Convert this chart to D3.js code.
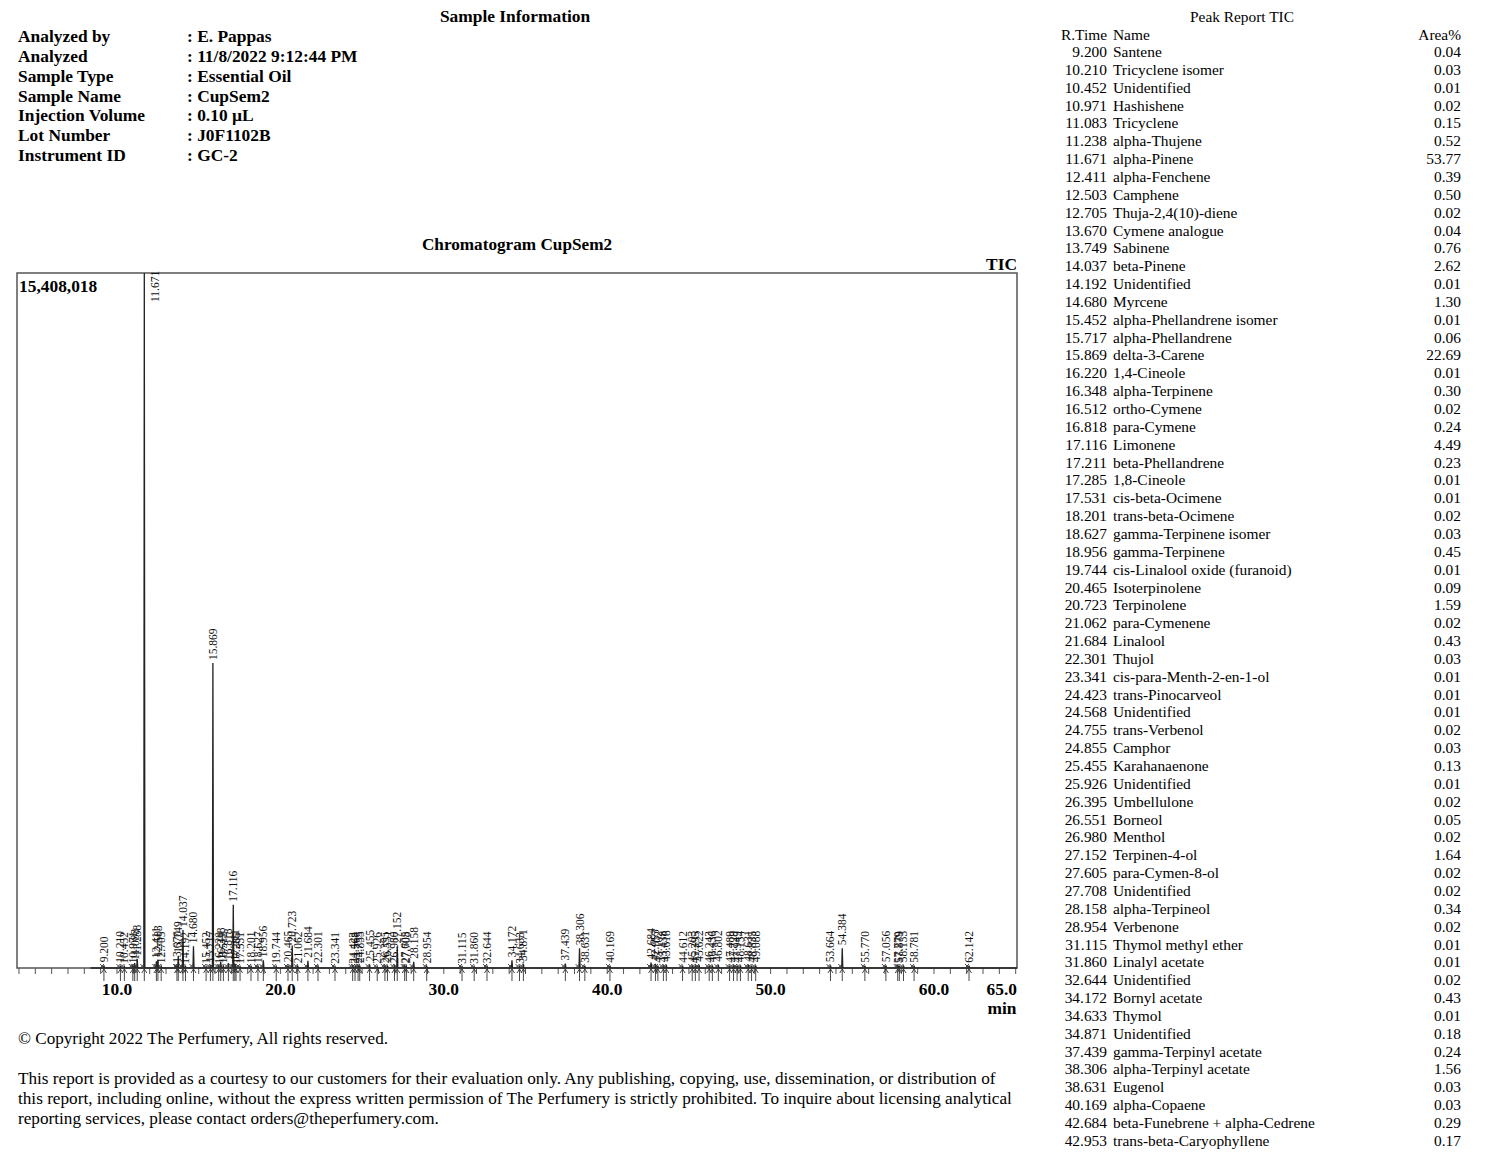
<!DOCTYPE html>
<html><head><meta charset="utf-8">
<script src="https://cdn.jsdelivr.net/npm/d3@7"></script>
<style>body{margin:0;background:#fff}svg{display:block}</style>
</head><body>
<script>
// ---------- data ----------
const infoLabels = ["Analyzed by","Analyzed","Sample Type","Sample Name","Injection Volume","Lot Number","Instrument ID"];
const infoValues = [": E. Pappas",": 11/8/2022 9:12:44 PM",": Essential Oil",": CupSem2",": 0.10 µL",": J0F1102B",": GC-2"];

const tableRT = ["9.200","10.210","10.452","10.971","11.083","11.238","11.671","12.411","12.503","12.705","13.670","13.749","14.037","14.192","14.680","15.452","15.717","15.869","16.220","16.348","16.512","16.818","17.116","17.211","17.285","17.531","18.201","18.627","18.956","19.744","20.465","20.723","21.062","21.684","22.301","23.341","24.423","24.568","24.755","24.855","25.455","25.926","26.395","26.551","26.980","27.152","27.605","27.708","28.158","28.954","31.115","31.860","32.644","34.172","34.633","34.871","37.439","38.306","38.631","40.169","42.684","42.953"];
const tableName = ["Santene","Tricyclene isomer","Unidentified","Hashishene","Tricyclene","alpha-Thujene","alpha-Pinene","alpha-Fenchene","Camphene","Thuja-2,4(10)-diene","Cymene analogue","Sabinene","beta-Pinene","Unidentified","Myrcene","alpha-Phellandrene isomer","alpha-Phellandrene","delta-3-Carene","1,4-Cineole","alpha-Terpinene","ortho-Cymene","para-Cymene","Limonene","beta-Phellandrene","1,8-Cineole","cis-beta-Ocimene","trans-beta-Ocimene","gamma-Terpinene isomer","gamma-Terpinene","cis-Linalool oxide (furanoid)","Isoterpinolene","Terpinolene","para-Cymenene","Linalool","Thujol","cis-para-Menth-2-en-1-ol","trans-Pinocarveol","Unidentified","trans-Verbenol","Camphor","Karahanaenone","Unidentified","Umbellulone","Borneol","Menthol","Terpinen-4-ol","para-Cymen-8-ol","Unidentified","alpha-Terpineol","Verbenone","Thymol methyl ether","Linalyl acetate","Unidentified","Bornyl acetate","Thymol","Unidentified","gamma-Terpinyl acetate","alpha-Terpinyl acetate","Eugenol","alpha-Copaene","beta-Funebrene + alpha-Cedrene","trans-beta-Caryophyllene"];
const tableArea = ["0.04","0.03","0.01","0.02","0.15","0.52","53.77","0.39","0.50","0.02","0.04","0.76","2.62","0.01","1.30","0.01","0.06","22.69","0.01","0.30","0.02","0.24","4.49","0.23","0.01","0.01","0.02","0.03","0.45","0.01","0.09","1.59","0.02","0.43","0.03","0.01","0.01","0.01","0.02","0.03","0.13","0.01","0.02","0.05","0.02","1.64","0.02","0.02","0.34","0.02","0.01","0.01","0.02","0.43","0.01","0.18","0.24","1.56","0.03","0.03","0.29","0.17"];

// chromatogram peaks (retention time, apex intensity in counts)
const peakRT = ["9.200","10.210","10.452","10.971","11.083","11.238","11.671","12.411","12.503","12.705","13.670","13.749","14.037","14.192","14.680","15.452","15.717","15.869","16.220","16.348","16.512","16.818","17.116","17.211","17.285","17.531","18.201","18.627","18.956","19.744","20.465","20.723","21.062","21.684","22.301","23.341","24.423","24.568","24.755","24.855","25.455","25.926","26.395","26.551","26.980","27.152","27.605","27.708","28.158","28.954","31.115","31.860","32.644","34.172","34.633","34.871","37.439","38.306","38.631","40.169","42.684","42.953","43.102","43.438","43.618","44.612","45.203","45.395","45.622","46.243","46.436","46.802","47.489","47.729","47.949","48.154","48.631","48.835","49.088","53.664","54.384","55.770","57.056","57.779","57.879","58.133","58.781","62.142"];
const peakHeight = [60000,50000,30000,40000,110000,200000,15408018,150000,180000,40000,50000,270000,840000,30000,480000,30000,60000,6760000,30000,130000,40000,110000,1400000,100000,30000,30000,40000,45000,170000,30000,60000,500000,40000,160000,45000,30000,30000,30000,40000,45000,80000,30000,40000,60000,40000,480000,40000,40000,140000,40000,30000,30000,40000,170000,30000,90000,100000,440000,50000,50000,120000,90000,50000,60000,70000,50000,60000,40000,70000,50000,60000,70000,50000,60000,50000,60000,70000,50000,60000,60000,440000,50000,60000,40000,50000,60000,50000,50000];

const axisLabels = [10,20,30,40,50,60,65];
const yMaxLabel = "15,408,018";

const footerLines = [
 "This report is provided as a courtesy to our customers for their evaluation only. Any publishing, copying, use, dissemination, or distribution of",
 "this report, including online, without the express written permission of The Perfumery is strictly prohibited. To inquire about licensing analytical",
 "reporting services, please contact orders@theperfumery.com."
];

// ---------- drawing ----------
const W = 1500, H = 1163;
const ser = "'Liberation Serif','Times New Roman',serif";
const svg = d3.select("body").append("svg").attr("width", W).attr("height", H)
  .style("font-family", ser);

// header
svg.append("text").attr("x", 515).attr("y", 22).attr("text-anchor", "middle")
  .attr("font-weight", "bold").attr("font-size", 17.4).text("Sample Information");
infoLabels.forEach((l, i) => {
  const yy = 42 + i * 19.85;
  svg.append("text").attr("x", 18).attr("y", yy).attr("font-weight", "bold").attr("font-size", 17.4).text(l);
  svg.append("text").attr("x", 187).attr("y", yy).attr("font-weight", "bold").attr("font-size", 17.4).text(infoValues[i]);
});

// chart
const L = 17, R = 1017, T = 273, B = 968;
const x = d3.scaleLinear().domain([10 - 100 / 16.34, 60 + 83 / 16.34]).range([L, R]);
const y = d3.scaleLinear().domain([0, 15408018]).range([B, T]);

svg.append("text").attr("x", 517).attr("y", 250).attr("text-anchor", "middle")
  .attr("font-weight", "bold").attr("font-size", 17.2).text("Chromatogram CupSem2");
svg.append("text").attr("x", 1017).attr("y", 270).attr("text-anchor", "end")
  .attr("font-weight", "bold").attr("font-size", 17.4).text("TIC");

svg.append("rect").attr("x", L).attr("y", T).attr("width", R - L).attr("height", B - T)
  .attr("fill", "none").attr("stroke", "#555").attr("stroke-width", 1.5);
svg.append("text").attr("x", 19).attr("y", 292).attr("font-weight", "bold").attr("font-size", 17.4).text(yMaxLabel);

// axis ticks
const ticks = d3.range(4, 66);
svg.append("g").selectAll("line").data(ticks).join("line")
  .attr("x1", d => x(d)).attr("x2", d => x(d)).attr("y1", B).attr("y2", B + 6)
  .attr("stroke", "#555").attr("stroke-width", 1);
svg.append("g").selectAll("text").data(axisLabels).join("text")
  .attr("x", d => d === 65 ? R : x(d)).attr("y", 995)
  .attr("text-anchor", d => d === 65 ? "end" : "middle")
  .attr("font-weight", "bold").attr("font-size", 17.4).text(d => d.toFixed(1));
svg.append("text").attr("x", 1002).attr("y", 1014).attr("text-anchor", "middle")
  .attr("font-weight", "bold").attr("font-size", 17.4).text("min");

// trace
const peaks = peakRT.map((t, i) => ({ t: +t, label: t, h: peakHeight[i] })).sort((a, b) => a.t - b.t);
const pts = [[x.domain()[0] + 4.5, 0]];
peaks.forEach(p => { pts.push([p.t - 0.03, 0], [p.t, p.h], [p.t + 0.035, 0]); });
pts.push([x.domain()[1], 0]);
const line = d3.line().x(d => x(d[0])).y(d => Math.max(T, y(d[1])));
svg.append("path").attr("d", line(pts)).attr("fill", "none").attr("stroke", "#222").attr("stroke-width", 1.3);

// baseline markers
const mk = svg.append("g").attr("stroke", "#333").attr("stroke-width", 0.9).attr("fill", "none");
peaks.forEach(p => {
  const px = x(p.t);
  mk.append("line").attr("x1", px).attr("x2", px).attr("y1", B + 1).attr("y2", B + 13);
  mk.append("path").attr("d", `M${px - 2.5},${B + 5}L${px},${B + 1}L${px + 2.5},${B + 5}`);
  mk.append("path").attr("d", `M${px - 4},${B - 4}L${px},${B}M${px - 4},${B}L${px},${B - 4}`);
});

// peak labels
const lab = svg.append("g").attr("font-size", 11.5).attr("fill", "#111").attr("font-family", ser);
peaks.forEach(p => {
  const px = x(p.t);
  let yt = y(p.h) - 3;
  let ox = 4;
  if (yt - 28 < T) { yt = T + 29; ox = 15; }
  lab.append("text").attr("transform", `translate(${px + ox},${yt}) rotate(-90)`).text(p.label);
});

// peak report table
const fs = 15.4;
svg.append("text").attr("x", 1242).attr("y", 22).attr("text-anchor", "middle").attr("font-size", fs).text("Peak Report TIC");
svg.append("text").attr("x", 1107).attr("y", 40).attr("text-anchor", "end").attr("font-size", fs).text("R.Time");
svg.append("text").attr("x", 1113).attr("y", 40).attr("font-size", fs).text("Name");
svg.append("text").attr("x", 1461).attr("y", 40).attr("text-anchor", "end").attr("font-size", fs).text("Area%");
const rowY = i => 57 + i * 17.85;
const tg = svg.append("g").attr("font-size", fs);
tableRT.forEach((rt, i) => {
  tg.append("text").attr("x", 1107).attr("y", rowY(i)).attr("text-anchor", "end").text(rt);
  tg.append("text").attr("x", 1113).attr("y", rowY(i)).text(tableName[i]);
  tg.append("text").attr("x", 1461).attr("y", rowY(i)).attr("text-anchor", "end").text(tableArea[i]);
});

// footer
svg.append("text").attr("x", 18).attr("y", 1044).attr("font-size", 17.1).text("© Copyright 2022 The Perfumery, All rights reserved.");
footerLines.forEach((s, i) => {
  svg.append("text").attr("x", 18).attr("y", 1084 + i * 19.8).attr("font-size", 17.2).text(s);
});
</script>
</body></html>
